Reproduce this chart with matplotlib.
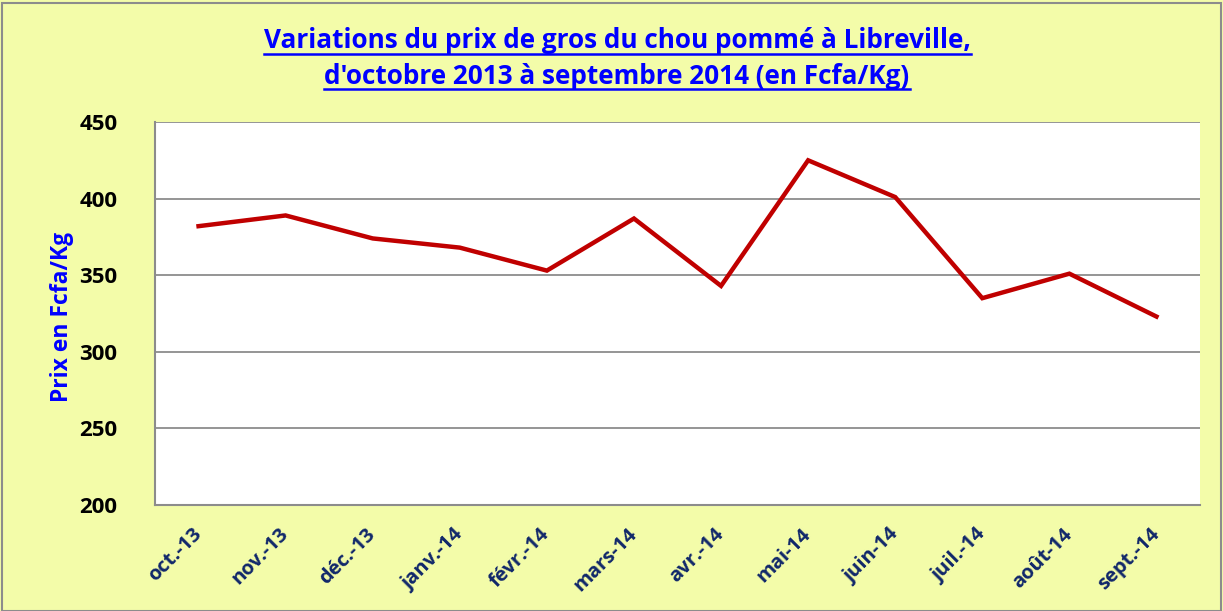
import matplotlib
matplotlib.use("Agg")
import matplotlib.pyplot as plt
from matplotlib.lines import Line2D
from matplotlib.patches import Rectangle

months = ["oct.-13", "nov.-13", "déc.-13", "janv.-14", "févr.-14", "mars-14",
          "avr.-14", "mai-14", "juin-14", "juil.-14", "août-14", "sept.-14"]
prices = [382, 389, 374, 368, 353, 387, 343, 425, 401, 335, 351, 323]
yticks = [200, 250, 300, 350, 400, 450]

title_lines = ["Variations du prix de gros du chou pommé à Libreville,",
               "d'octobre 2013 à septembre 2014 (en Fcfa/Kg)"]
ylabel = "Prix en Fcfa/Kg"

BG = "#F3FCA9"
FONT = ["Open Sans", "DejaVu Sans"]

fig = plt.figure(figsize=(12.23, 6.11), dpi=100, facecolor=BG)
ax = fig.add_axes([155/1223, 106/611, 1045/1223, 383/611])
ax.set_facecolor("white")

x = list(range(len(months)))
ax.plot(x, prices, color="#C00000", lw=3.2, solid_joinstyle="miter", zorder=3)

ax.set_xlim(-0.5, len(months) - 0.5)
ax.set_ylim(200, 450)
ax.set_yticks(yticks)
ax.set_yticklabels([str(v) for v in yticks], fontsize=16, fontweight="bold",
                   family=FONT, color="black")
ax.yaxis.grid(True, color="#8C8C8C", lw=1.3)
ax.set_axisbelow(True)
ax.tick_params(axis="y", length=0, pad=27)
ax.tick_params(axis="x", length=0, pad=19)
ax.set_xticks(x)
ax.set_xticklabels(months, rotation=45, ha="right", va="center",
                   rotation_mode="anchor", fontsize=14.5, fontweight="bold",
                   family=FONT, color="#10276A")
for s in ["top", "right"]:
    ax.spines[s].set_visible(False)
for s in ["left", "bottom"]:
    ax.spines[s].set_color("#8C8C8C")
    ax.spines[s].set_linewidth(1.5)

fig.text(62/1223, 1 - 317/611, ylabel, rotation=90, ha="center", va="center",
         fontsize=16.5, fontweight="bold", family=FONT, color="#0000FF")

# figure border
fig.patches.append(Rectangle((0.002, 0.0), 0.996, 0.995, transform=fig.transFigure,
                             fill=False, edgecolor="#8C8C8C", lw=1.5))

title_y = [1 - 41/611, 1 - 76/611]
texts = []
for t, yy in zip(title_lines, title_y):
    texts.append(fig.text(617/1223, yy, t, ha="center", va="center", fontsize=18.8,
                          fontweight="bold", family=FONT, color="#0000FF"))

fig.canvas.draw()
r = fig.canvas.get_renderer()
for t in texts:
    bb = t.get_window_extent(renderer=r)
    W, H = fig.bbox.width, fig.bbox.height
    yline = (bb.y0 + 1) / H
    fig.lines.append(Line2D([bb.x0 / W, bb.x1 / W], [yline, yline],
                            transform=fig.transFigure, color="#0000FF", lw=1.8))

fig.savefig("out.png", dpi=100, facecolor=BG)
